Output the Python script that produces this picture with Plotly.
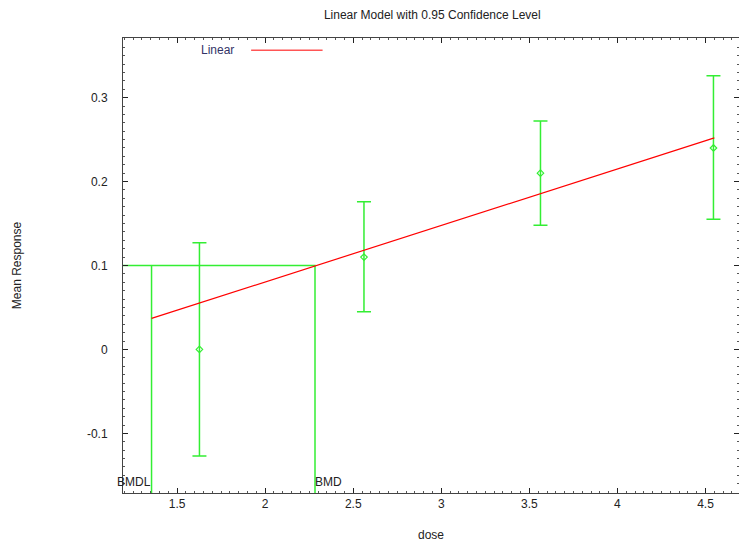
import plotly.graph_objects as go

# Observed data (dose, mean response, CI bounds)
dose = [1.627, 2.561, 3.563, 4.545]
mean_resp = [0.0, 0.110, 0.210, 0.240]
upper = [0.127, 0.176, 0.272, 0.326]
lower = [-0.127, 0.045, 0.148, 0.155]

# Linear model fit line
line_dose = [1.355, 4.55]
line_resp = [0.037, 0.252]

# Benchmark values
bmr = 0.1
bmd = 2.283
bmdl = 1.355

x_range = [1.193, 4.69]
y_range = [-0.171, 0.371]

x_ticks = [1.5, 2, 2.5, 3, 3.5, 4, 4.5]
x_ticklabels = ["1.5", "2", "2.5", "3", "3.5", "4", "4.5"]
y_ticks = [-0.1, 0, 0.1, 0.2, 0.3]
y_ticklabels = ["-0.1", "0", "0.1", "0.2", "0.3"]

GREEN = "#33ee33"
RED = "#ff0000"
FONT = "Liberation Sans"

fig = go.Figure()

# BMD / BMDL guide lines
fig.add_trace(go.Scatter(
    x=[x_range[0], bmd, bmd], y=[bmr, bmr, y_range[0]],
    mode="lines", line=dict(color=GREEN, width=1.5),
    showlegend=False, hoverinfo="skip"))
fig.add_trace(go.Scatter(
    x=[bmdl, bmdl], y=[bmr, y_range[0]],
    mode="lines", line=dict(color=GREEN, width=1.5),
    showlegend=False, hoverinfo="skip"))

# Data with error bars
fig.add_trace(go.Scatter(
    x=dose, y=mean_resp, mode="markers",
    marker=dict(symbol="diamond-open", size=5, color=GREEN, line=dict(width=1.2, color=GREEN)),
    error_y=dict(type="data", symmetric=False,
                 array=[u - m for u, m in zip(upper, mean_resp)],
                 arrayminus=[m - l for m, l in zip(mean_resp, lower)],
                 color=GREEN, thickness=1.5, width=7),
    showlegend=False))

# Linear fit
fig.add_trace(go.Scatter(
    x=line_dose, y=line_resp, mode="lines",
    line=dict(color=RED, width=1.2), name="Linear", showlegend=False))

# Legend (manual, gnuplot-style)
fig.add_annotation(xref="paper", yref="paper", x=0.184, y=0.973, text="Linear",
                   showarrow=False, xanchor="right", yanchor="middle",
                   font=dict(family=FONT, size=12, color="#333366"))
fig.add_shape(type="line", xref="paper", yref="paper", x0=0.208, x1=0.324,
              y0=0.973, y1=0.973, line=dict(color="#ff5555", width=1.5))

# BMD labels
fig.add_annotation(x=bmdl, y=y_range[0], text="BMDL", showarrow=False,
                   xanchor="right", yanchor="bottom", yshift=2, xshift=1,
                   font=dict(family=FONT, size=12, color="#222222"))
fig.add_annotation(x=bmd, y=y_range[0], text="BMD", showarrow=False,
                   xanchor="left", yanchor="bottom", yshift=2, xshift=-2,
                   font=dict(family=FONT, size=12, color="#222222"))

axis_common = dict(showgrid=False, zeroline=False, showline=True, linecolor="#444444",
                   linewidth=1, mirror="ticks", ticks="inside", ticklen=5,
                   tickcolor="#222222", tickfont=dict(family=FONT, size=12, color="#222222"))

fig.update_xaxes(range=x_range, tickvals=x_ticks, ticktext=x_ticklabels,
                 minor=dict(dtick=0.05, tick0=0, ticks="inside", ticklen=2, tickcolor="#555555"),
                 title=dict(text="dose", font=dict(family=FONT, size=12, color="#222222"), standoff=20),
                 **axis_common)
fig.update_yaxes(range=y_range, tickvals=y_ticks, ticktext=y_ticklabels,
                 minor=dict(dtick=0.01, tick0=0, ticks="inside", ticklen=2, tickcolor="#555555"),
                 title=dict(text="Mean Response", font=dict(family=FONT, size=12, color="#222222"), standoff=62),
                 ticklabelstandoff=12,
                 **axis_common)

fig.update_layout(
    width=739, height=542,
    margin=dict(l=123, r=0, t=38, b=49),
    paper_bgcolor="white", plot_bgcolor="white",
    title=dict(text="Linear Model with 0.95 Confidence Level", x=0.585, xanchor="center",
               y=0.972, yanchor="middle",
               font=dict(family=FONT, size=12, color="#222222")),
    showlegend=False,
)

fig.write_html("out.html", config={"displayModeBar": False},
               post_script="document.body.style.margin='0';document.body.style.overflow='hidden';")
